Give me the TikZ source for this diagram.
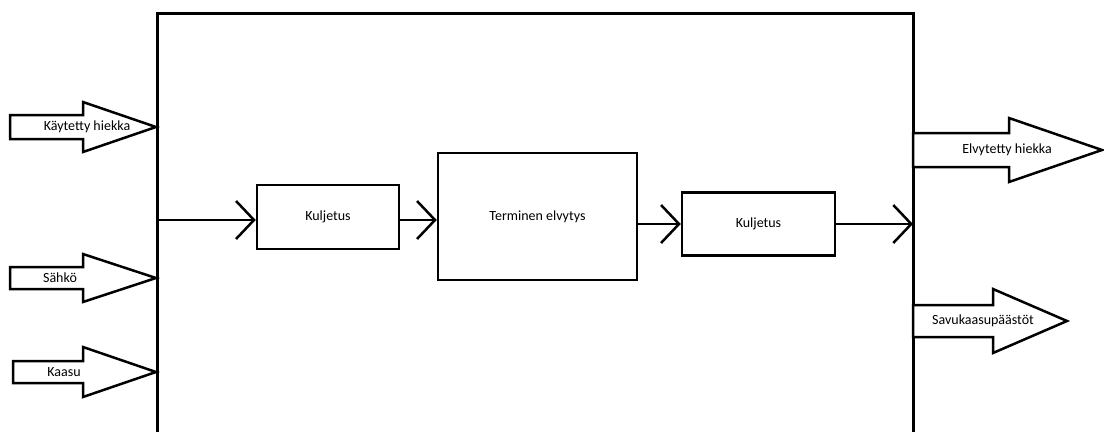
\documentclass[tikz,border=0pt]{standalone}
\usepackage{fontspec}
\setmainfont{Carlito}
\usetikzlibrary{arrows.meta}
\tikzset{>={Straight Barb[length=18pt,width=38pt]}}
\tikzset{
  blok/.style = {draw, line width=2.5pt, font=\fontsize{14}{16}\selectfont, fill=white},
  fat/.style = {draw, line width=2.5pt, fill=white, line join=miter},
  lbl/.style = {font=\fontsize{14}{16}\selectfont, inner sep=0pt},
  flow/.style = {->, line width=2.5pt}
}
% fat arrow: x start, x head, x tip, y centre, shaft half, head half
\newcommand{\fatarrow}[6]{%
  \draw[fat] (#1,{#4-#5}) -- (#2,{#4-#5}) -- (#2,{#4-#6}) -- (#3,#4)
    -- (#2,{#4+#6}) -- (#2,{#4+#5}) -- (#1,{#4+#5}) -- cycle;}

\begin{document}
\begin{tikzpicture}[x=1pt, y=-1pt]
    \useasboundingbox (0,0) rectangle (1104,432);
    \draw[line width=3pt] (157,432) -- (157,13) -- (913,13) -- (913,432);

    % inputs
    \fatarrow{10}{83}{156}{127}{12}{25}
    \node[lbl] (hiekka) at (87,127) {Käytetty hiekka};
    \fatarrow{10}{83}{156}{278}{11}{24}
    \node[lbl] (sahko) at (60,278) {Sähkö};
    \fatarrow{13}{83}{156}{372}{11}{25}
    \node[lbl] (kaasu) at (64,372) {Kaasu};

    % outputs
    \fatarrow{913}{1009}{1102}{150}{17}{32}
    \node[lbl] (elvytetty) at (1007,150) {Elvytetty hiekka};
    \fatarrow{913}{993}{1067}{321}{16}{32}
    \node[lbl] (savu) at (983,321) {Savukaasupäästöt};

    % process
    \node[blok, minimum width=142pt, minimum height=64pt] (kul1) at (328,217) {Kuljetus};
    \node[blok, minimum width=199pt, minimum height=127pt] (term) at (537.5,216.5) {Terminen elvytys};
    \node[blok, minimum width=153pt, minimum height=63pt] (kul2) at (758.5,224) {Kuljetus};
    \coordinate (in) at (157,220);
    \coordinate (out) at (913,224);

    \draw[flow] (in) -- (kul1.west |- in);
    \draw[flow] (kul1.east |- in) -- (term.west |- in);
    \draw[flow] (term.east |- kul2.west) -- (kul2.west);
    \draw[flow] (kul2.east) -- (out);
\end{tikzpicture}
\end{document}
